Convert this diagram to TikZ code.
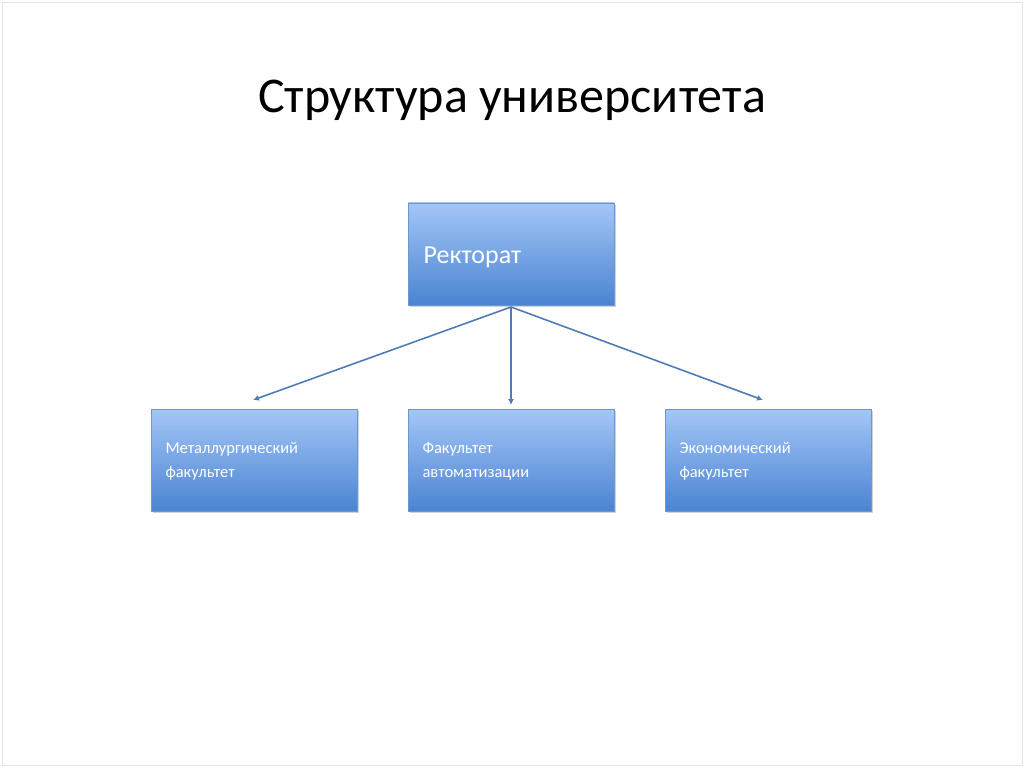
\documentclass[tikz,border=0pt]{standalone}
\usepackage{fontspec}
\setmainfont{Carlito}
\usetikzlibrary{shadows}
\definecolor{btop}{HTML}{A3C6F7}
\definecolor{bbot}{HTML}{4A84D2}
\definecolor{bline}{HTML}{6E97CC}
\definecolor{arr}{HTML}{4F7DB8}
\tikzset{
 box/.style={draw=bline,line width=0.6pt,top color=btop,bottom color=bbot,minimum width=206pt,minimum height=102pt,inner sep=0pt,
   drop shadow={shadow xshift=1.5pt,shadow yshift=-2pt,opacity=0.35}},
 lab/.style={text=white,align=left,anchor=west},
 con/.style={draw=arr,line width=1.6pt,-{Latex[length=6pt,width=6pt]}}
}
\usetikzlibrary{arrows.meta}
\begin{document}
\begin{tikzpicture}[x=1pt,y=-1pt]
\useasboundingbox (0,0) rectangle (1024,767);
\fill[white] (0,0) rectangle (1024,767);
\draw[gray!20] (2,2) rectangle (1022,765);
\node[font=\fontsize{50}{60}\selectfont] (title) at (512,100) {Структура университета};
\node[box] (r) at (511,254) {};
\node[lab,font=\fontsize{26}{30}\selectfont] (rt) at (420,257) {Ректорат};
\node[box] (a) at (254,460) {};
\node[box] (b) at (511,460) {};
\node[box] (c) at (768,460) {};
\node[lab,font=\fontsize{16.5}{24}\selectfont] (at) at (162,461) {Металлургический\\факультет};
\node[lab,font=\fontsize{16.5}{24}\selectfont] (bt) at (419,461) {Факультет\\автоматизации};
\node[lab,font=\fontsize{16.5}{24}\selectfont] (ct) at (676,461) {Экономический\\факультет};
\coordinate (o) at (511,307);
\draw[con] (o) -- (253,400);
\draw[con] (o) -- (511,405);
\draw[con] (o) -- (763,400);
\end{tikzpicture}
\end{document}
